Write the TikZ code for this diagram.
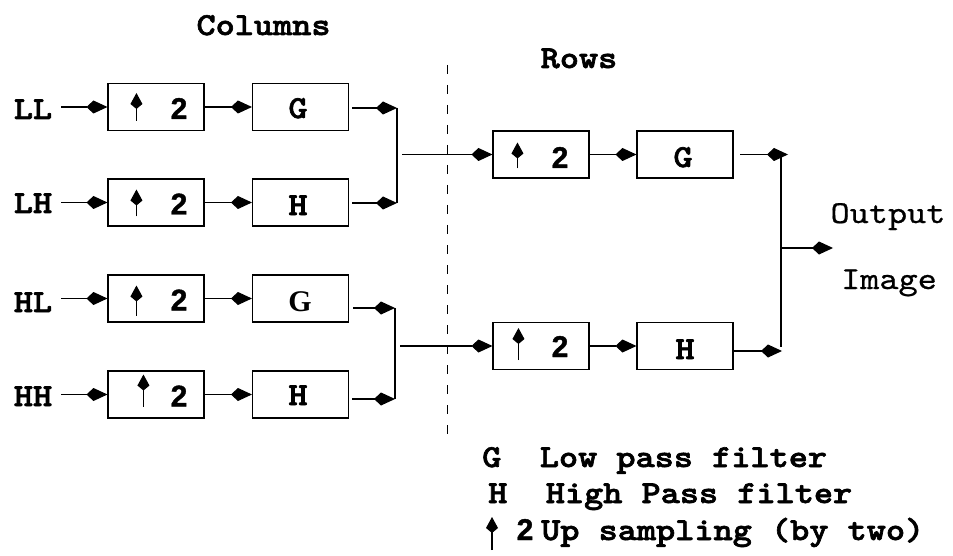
\documentclass[tikz,border=0pt]{standalone}
\usepackage{fontspec}
\setmainfont{Liberation Serif}[BoldFont={Liberation Serif Bold}]
% slab-serif typewriter faces, widened to a 0.6em advance
\newfontfamily\courb{lmmonolt10-bold.otf}[FakeStretch=1.14,FakeBold=2]
\newfontfamily\courr{lmmono10-regular.otf}[FakeStretch=1.14,FakeBold=0.6]
\newfontfamily\helvb{Liberation Sans Bold}[FakeBold=1.2]
\usetikzlibrary{arrows.meta,calc}

\tikzset{
  box/.style={draw,line width=1.1pt,minimum width=96pt,minimum height=47pt,inner sep=0pt},
  lbl/.style={font=\courb\fontsize{32}{32}\selectfont,inner sep=0pt,anchor=base},
  plain/.style={font=\courr\fontsize{32}{32}\selectfont,inner sep=0pt,anchor=base},
  two/.style={font=\helvb\fontsize{30}{30}\selectfont,inner sep=0pt,anchor=base},
  serifG/.style={font=\rmfamily\bfseries\fontsize{30}{30}\selectfont,inner sep=0pt,anchor=base},
  arr/.style={line width=1.1pt,-{Kite[length=21pt,width=13pt,inset=7pt]}},
  uparr/.style={line width=1.1pt,-{Kite[length=16pt,width=12pt,inset=5pt]}},
  wire/.style={line width=1.1pt},
  divider/.style={line width=0.9pt,dash pattern=on 9pt off 11pt},
}

\begin{document}
\begin{tikzpicture}[x=1pt,y=-1pt]
\useasboundingbox (0,0) rectangle (953,556);

% titles
\node[lbl] (tCol) at (263.5,35) {Columns};
\node[lbl] (tRow) at (579,68) {Rows};

% input labels
\node[lbl] (tLL) at (33,119) {LL};
\node[lbl] (tLH) at (33,213) {LH};
\node[lbl] (tHL) at (33,312) {HL};
\node[lbl] (tHH) at (33,406) {HH};

% column stage: upsamplers and filters
\node[box] (u1) at (156,107) {};
\node[box] (u2) at (156,202.5) {};
\node[box] (u3) at (156,298.5) {};
\node[box] (u4) at (156,394.5) {};
\node[box] (f1) at (300.5,107) {};
\node[box] (f2) at (300.5,202.5) {};
\node[box] (f3) at (300.5,298.5) {};
\node[box] (f4) at (300.5,394.5) {};

\node[two] (n1) at (179,119) {2};
\node[two] (n2) at (179,214.5) {2};
\node[two] (n3) at (179,310.5) {2};
\node[two] (n4) at (179,406.5) {2};
\node[lbl] (g1) at (298,118) {G};
\node[lbl] (h1) at (298,215) {H};
\node[serifG] (g2) at (300,311.5) {G};
\node[lbl] (h2) at (298,405) {H};

\draw[uparr] ($(u1.west)+(29,14)$) -- ($(u1.west)+(29,-14)$);
\draw[uparr] ($(u2.west)+(29,14)$) -- ($(u2.west)+(29,-13)$);
\draw[uparr] ($(u3.west)+(29,17)$) -- ($(u3.west)+(29,-13)$);
\draw[uparr] ($(u4.west)+(36,12)$) -- ($(u4.west)+(36,-20)$);

% row stage
\node[box] (r1) at (541,154.5) {};
\node[box] (r2) at (541,346) {};
\node[box] (s1) at (685,154.5) {};
\node[box] (s2) at (685,346) {};
\node[two] (m1) at (560,168) {2};
\node[two] (m2) at (560,357) {2};
\node[lbl] (g3) at (683,167) {G};
\node[lbl] (h3) at (685,359) {H};
\draw[uparr] ($(r1.west)+(25,14)$) -- ($(r1.west)+(25,-12)$);
\draw[uparr] ($(r2.west)+(26,14)$) -- ($(r2.west)+(26,-18)$);

% output label
\node[plain] (tOut) at (888,223) {Output};
\node[plain] (tImg) at (889,289) {Image};

% inputs
\coordinate (iLL) at (61,107);
\coordinate (iLH) at (61,202.5);
\coordinate (iHL) at (61,298.5);
\coordinate (iHH) at (61,394.5);
\draw[arr] (iLL) -- (u1.west);
\draw[arr] (iLH) -- (u2.west);
\draw[arr] (iHL) -- (u3.west);
\draw[arr] (iHH) -- (u4.west);

% upsampler to filter
\draw[arr] (u1.east) -- (f1.west);
\draw[arr] (u2.east) -- (f2.west);
\draw[arr] (u3.east) -- (f3.west);
\draw[arr] (u4.east) -- (f4.west);

% column outputs and merges
\coordinate (oLL) at (352,108);  \coordinate (jLL) at (397,108);
\coordinate (oLH) at (352,203);  \coordinate (jLH) at (397,203);
\coordinate (oHL) at (353,308);  \coordinate (jHL) at (395,308);
\coordinate (oHH) at (352,399);  \coordinate (jHH) at (395,399);
\draw[arr] (oLL) -- (jLL);
\draw[arr] (oLH) -- (jLH);
\draw[arr] (oHL) -- (jHL);
\draw[arr] (oHH) -- (jHH);
\draw[wire] (jLL) -- (jLH);
\draw[wire] (jHL) -- (jHH);
\coordinate (mA) at (402,154.5);
\coordinate (mB) at (400,346);
\draw[arr] (mA) -- (r1.west);
\draw[arr] (mB) -- (r2.west);

% row stage connections
\draw[arr] (r1.east) -- (s1.west);
\draw[arr] (r2.east) -- (s2.west);
\coordinate (oR1) at (740,154.5); \coordinate (jR1) at (788,154.5);
\coordinate (oR2) at (733,351);   \coordinate (jR2) at (782,351);
\draw[arr] (oR1) -- (jR1);
\draw[arr] (oR2) -- (jR2);
\coordinate (vTop) at (781,154.5);
\coordinate (vBot) at (781,347);
\draw[wire] (vTop) -- (vBot);
\coordinate (vMid) at (781,248);
\coordinate (vOut) at (833,248);
\draw[arr] (vMid) -- (vOut);

% stage divider
\coordinate (dTop) at (447,65);
\coordinate (dBot) at (447,436);
\draw[divider] (dTop) -- (dBot);

% legend
\node[lbl,anchor=base west] (kG) at (482,467) {G};
\node[lbl,anchor=base west] (kGt) at (539.6,467) {Low pass filter};
\node[lbl,anchor=base west] (kH) at (488,503) {H};
\node[lbl,anchor=base west] (kHt) at (545.6,503) {High Pass filter};
\coordinate (kAb) at (492,550);
\coordinate (kAt) at (492,517);
\draw[uparr] (kAb) -- (kAt);
\node[two] (k2) at (525,540) {2};
\node[lbl,anchor=base west] (kUt) at (541,540) {Up sampling (by two)};
\end{tikzpicture}
\end{document}
